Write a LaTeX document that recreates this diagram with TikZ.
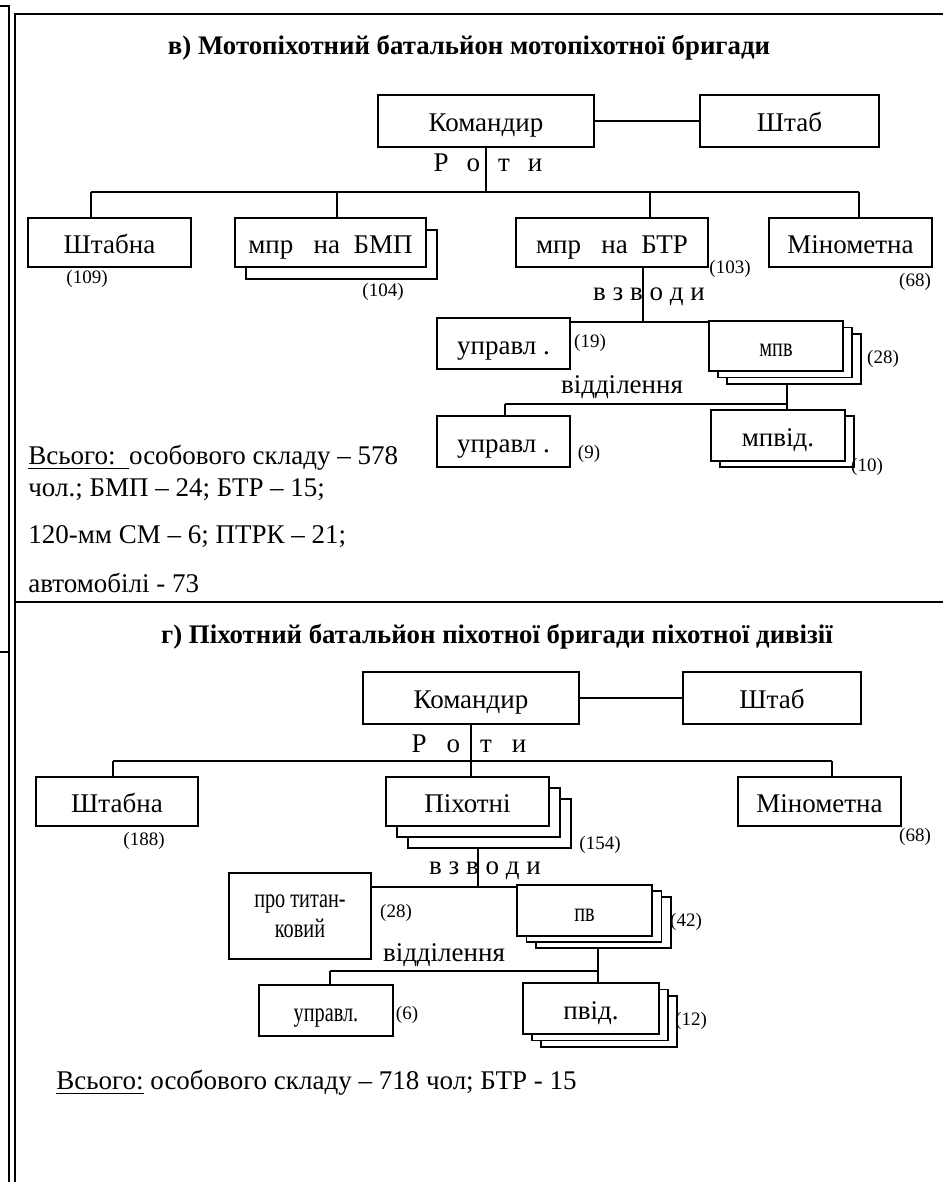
\documentclass[tikz,border=0pt]{standalone}
\usepackage{fontspec}
\setmainfont{Liberation Serif}
\usepackage{graphicx}
\usetikzlibrary{calc}
\tikzset{
  box/.style 2 args  = {draw, line width=0.9pt, fill=white, inner sep=0pt,
                        minimum width=#1*0.5pt, minimum height=#2*0.5pt,
                        font=\fontsize{13.5}{15}\selectfont},
  unit/.style 2 args = {box={#1}{#2}, text height=10.5pt, text depth=0pt},
  link/.style  = {line width=0.8pt},
  frame/.style = {line width=0.8pt},
  count/.style = {font=\fontsize{9.5}{10}\selectfont, inner sep=0pt},
  lbl/.style   = {font=\fontsize{13.5}{15}\selectfont, inner sep=0pt},
  title/.style = {font=\fontsize{13.4}{15}\selectfont\bfseries, inner sep=0pt},
}
\newcommand{\narrow}[1]{\scalebox{0.75}[1]{#1}}
\newcommand{\unitstack}[7]{%
  \foreach \k in {#2,...,1}
    \node[unit={#4}{#5}] (#1-\k) at ($(#3)+\k*(#6)$) {};
  \node[unit={#4}{#5}] (#1) at (#3) {#7};
}

\begin{document}
\begin{tikzpicture}[x=0.5pt,y=-0.5pt]
\useasboundingbox (0,0) rectangle (943,1182);
\draw[frame] (0,6) -- (9,6) -- (9,1182);
\draw[frame] (0,652) -- (9,652);
\draw[frame] (15,1182) -- (15,14) -- (943,14);
\draw[frame] (15,602) -- (943,602);

\node[title] (title1) at (469,48) {в) Мотопіхотний батальйон мотопіхотної бригади};
\node[unit={216}{52}] (kom1) at (486,121) {Командир};
\node[unit={179}{52}] (shtab1) at (789.5,121) {Штаб};
\node[unit={163}{49}] (shtabna1) at (109.5,242.5) {Штабна};
\unitstack{bmp1}{1}{330.5,242.5}{191}{49}{11,12}{мпр\ \ \ на\ \ БМП}
\node[unit={192}{49}] (btr1) at (612,242.5) {мпр\ \ \ на\ \ БТР};
\node[unit={163}{49}] (minom1) at (850.5,242.5) {Мінометна};
\node[unit={133}{51}] (upr1) at (503.5,343.5) {управл .};
\unitstack{mpv1}{2}{776,346}{134}{50}{9,6.5}{\narrow{мпв}}
\node[unit={133}{51}] (upr2) at (503.5,441.5) {управл .};
\unitstack{mpvid1}{1}{778,435.5}{134}{51}{9,6}{мпвід.}

\node[lbl] (roty1) at (488,163) {Р\hspace{9pt}о\hspace{9pt}т\hspace{9pt}и};
\node[lbl] (vzv1) at (649,297) {в з в о д и};
\node[lbl] (vid1) at (622,387) {відділення};

\coordinate (bus1a) at (91,192);
\coordinate (bus1b) at (337,192);
\coordinate (bus1c) at (650,192);
\coordinate (bus1d) at (859,192);
\draw[link] (kom1) -- (shtab1);
\draw[link] (kom1.south) -- (kom1.south |- bus1a);
\draw[link] (bus1a) -- (bus1d);
\foreach \b/\n in {bus1a/shtabna1, bus1b/bmp1, bus1c/btr1, bus1d/minom1}
  \draw[link] (\b) -- (\b |- \n.north);
\coordinate (pl1) at (643,322);
\draw[link] (pl1 |- btr1.south) -- (pl1);
\draw[link] (upr1.east |- pl1) -- (mpv1.west |- pl1);
\coordinate (sq1a) at (505,404);
\coordinate (sq1b) at (787,404);
\draw[link] (sq1b |- mpv1-2.south) -- (sq1b |- mpvid1.north);
\draw[link] (sq1a) -- (sq1b);
\draw[link] (sq1a) -- (sq1a |- upr2.north);

\node[count] (c109) at (87,279) {(109)};
\node[count] (c104) at (383,292) {(104)};
\node[count] (c103) at (730,269) {(103)};
\node[count] (c68a) at (915,282) {(68)};
\node[count] (c19) at (590,343) {(19)};
\node[count] (c28a) at (883,359) {(28)};
\node[count] (c9) at (589,454) {(9)};
\node[count] (c10) at (867,467) {(10)};

\node[lbl, anchor=west] (tot1a) at (28,458) {\underline{Всього:\ \ }особового складу – 578};
\node[lbl, anchor=west] (tot1b) at (28,490) {чол.; БМП – 24; БТР – 15;};
\node[lbl, anchor=west] (tot1c) at (28,537) {120-мм СМ – 6; ПТРК – 21;};
\node[lbl, anchor=west] (tot1d) at (28,583) {автомобілі - 73};

\node[title] (title2) at (497,637) {г) Піхотний батальйон піхотної бригади піхотної дивізії};
\node[unit={216}{52}] (kom2) at (471,698) {Командир};
\node[unit={178}{52}] (shtab2) at (772,698) {Штаб};
\node[unit={162}{49}] (shtabna2) at (117,801.5) {Штабна};
\unitstack{pikh2}{2}{467.5,801.5}{163}{49}{11,11}{Піхотні}
\node[unit={163}{49}] (minom2) at (819.5,801.5) {Мінометна};
\node[box={142}{86}, align=center] (ptk2) at (300,916) {\narrow{про титан-}\\\narrow{ковий}};
\unitstack{pv2}{2}{584.5,910.5}{135}{51}{9.5,6}{\narrow{пв}}
\node[unit={134}{51}] (upr3) at (326,1010.5) {\narrow{управл.}};
\unitstack{pvid2}{2}{591,1008.5}{136}{51}{9,6.5}{пвід.}

\node[lbl] (roty2) at (469,744) {Р\hspace{10pt}о\hspace{10pt}т\hspace{10pt}и};
\node[lbl] (vzv2) at (485,871) {в з в о д и};
\node[lbl] (vid2) at (444,955) {відділення};

\coordinate (bus2a) at (113,761);
\coordinate (bus2b) at (832,761);
\draw[link] (kom2) -- (shtab2);
\draw[link] (kom2.south) -- (kom2.south |- pikh2.north);
\draw[link] (bus2a) -- (bus2b);
\draw[link] (bus2a) -- (bus2a |- shtabna2.north);
\draw[link] (bus2b) -- (bus2b |- minom2.north);
\coordinate (pl2) at (478,887);
\draw[link] (pl2 |- pikh2-2.south) -- (pl2);
\draw[link] (ptk2.east |- pl2) -- (pv2.west |- pl2);
\coordinate (sq2a) at (330,971);
\coordinate (sq2b) at (598,971);
\draw[link] (sq2b |- pv2-2.south) -- (sq2b |- pvid2.north);
\draw[link] (sq2a) -- (sq2b);
\draw[link] (sq2a) -- (sq2a |- upr3.north);

\node[count] (c188) at (144,841) {(188)};
\node[count] (c154) at (600,845) {(154)};
\node[count] (c68b) at (915,837) {(68)};
\node[count] (c28b) at (396,913) {(28)};
\node[count] (c42) at (686,922) {(42)};
\node[count] (c6) at (407,1015) {(6)};
\node[count] (c12) at (691,1021) {(12)};

\node[lbl, anchor=west] (tot2) at (56,1083) {\underline{Всього:} особового складу – 718 чол; БТР - 15};
\end{tikzpicture}
\end{document}
